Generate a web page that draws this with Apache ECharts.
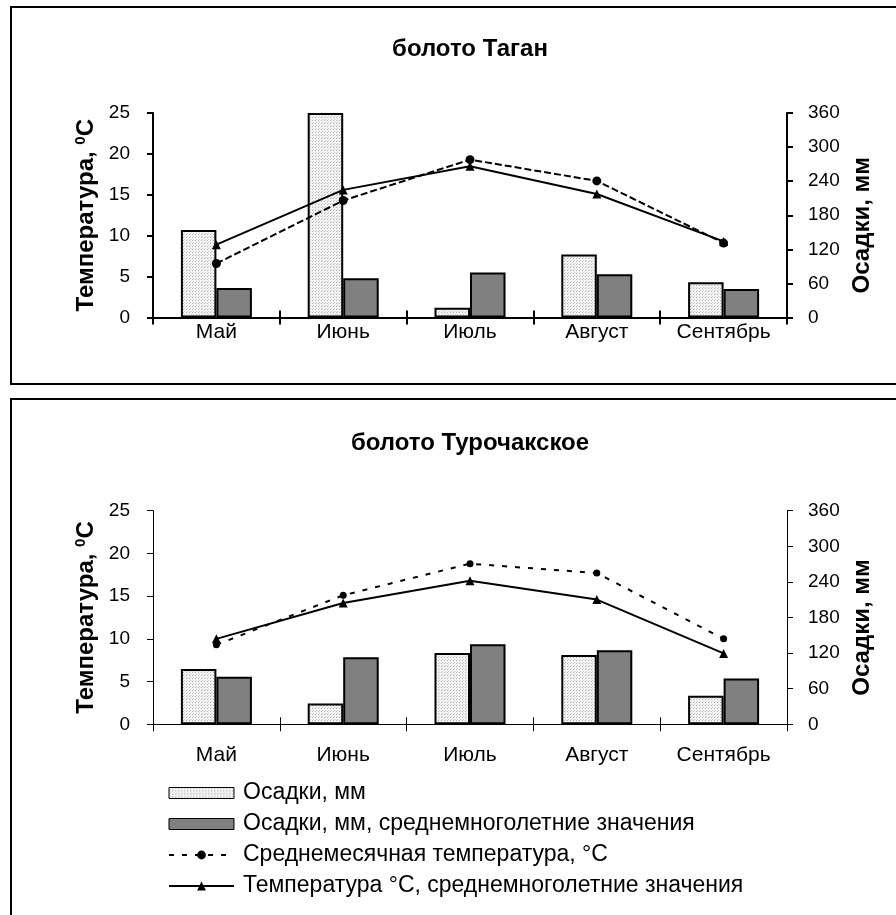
<!DOCTYPE html>
<html>
<head>
<meta charset="utf-8">
<script src="https://cdn.jsdelivr.net/npm/echarts@6/dist/echarts.min.js"></script>
<style>
html,body{margin:0;padding:0;background:#fff;}
#c{width:896px;height:915px;}
</style>
</head>
<body>
<div id="c"></div>
<script>
const months = ['Май', 'Июнь', 'Июль', 'Август', 'Сентябрь'];
const tempTicks = [0, 25, 5];     // min, max, interval
const precTicks = [0, 360, 60];   // min, max, interval

// болото Таган
const taganPrecip = [154, 360, 17, 111, 62];
const taganPrecipNorm = [52, 69, 79, 76, 50];
const taganTemp = [6.6, 14.3, 19.3, 16.7, 9.1];
const taganTempNorm = [8.9, 15.6, 18.5, 15.1, 9.3];

// болото Турочакское
const turPrecip = [93, 35, 120, 117, 48];
const turPrecipNorm = [80, 113, 135, 125, 77];
const turTemp = [9.3, 15.1, 18.8, 17.7, 10.0];
const turTempNorm = [10.0, 14.2, 16.8, 14.6, 8.3];

const names = ['Осадки, мм', 'Осадки, мм, среднемноголетние значения',
  'Среднемесячная температура, °C', 'Температура °C, среднемноголетние значения'];
const titles = ['болото Таган', 'болото Турочакское'];

const FONT = '"Liberation Sans", Arial, sans-serif';

// stipple pattern for light bars
const pc = document.createElement('canvas');
pc.width = 3; pc.height = 3;
const pctx = pc.getContext('2d');
pctx.fillStyle = '#f3f3f3'; pctx.fillRect(0, 0, 3, 3);
pctx.fillStyle = '#b4b4b4'; pctx.fillRect(0, 0, 1, 1);
pctx.fillStyle = '#d0d0d0'; pctx.fillRect(1, 2, 1, 1);
const lightFill = { image: pc, repeat: 'repeat' };

const chart = echarts.init(document.getElementById('c'), null, { renderer: 'canvas' });

const grids = [
  { left: 153, right: 109, top: 113, height: 204.5 },
  { left: 153, right: 109, top: 510.7, height: 213.6 }
];
const axW = [2, 1];
const labelMargin = [4, 20];

const xAxes = [], yAxes = [], series = [];
[0, 1].forEach(function (g) {
  xAxes.push({
    type: 'category', gridIndex: g, data: months, boundaryGap: true,
    axisLine: { lineStyle: { color: '#000', width: axW[g] } },
    axisTick: { show: true, length: 7, lineStyle: { color: '#000', width: axW[g] } },
    axisLabel: { color: '#000', fontSize: 21, fontFamily: FONT, margin: labelMargin[g], interval: 0, hideOverlap: false },
    splitLine: { show: false }
  });
  yAxes.push({
    type: 'value', gridIndex: g, position: 'left', min: tempTicks[0], max: tempTicks[1], interval: tempTicks[2],
    name: '{a|Температура, }{s|0}{a|C}', nameLocation: 'middle', nameRotate: 90, nameGap: 52,
    nameTextStyle: { rich: {
      a: { fontSize: 24, fontWeight: 'bold', fontFamily: FONT, color: '#000' },
      s: { fontSize: 15, fontWeight: 'bold', fontFamily: FONT, color: '#000', padding: [0, 0, 11, 0] } } },
    axisLine: { show: true, lineStyle: { color: '#000', width: axW[g] } },
    axisTick: { show: true, length: 6, lineStyle: { color: '#000', width: axW[g] } },
    axisLabel: { color: '#000', fontSize: 19, fontFamily: FONT, margin: 23 },
    splitLine: { show: false }
  });
  yAxes.push({
    type: 'value', gridIndex: g, position: 'right', min: precTicks[0], max: precTicks[1], interval: precTicks[2],
    name: 'Осадки, мм', nameLocation: 'middle', nameRotate: 90, nameGap: 63,
    nameTextStyle: { fontSize: 24, fontWeight: 'bold', fontFamily: FONT, color: '#000', padding: [0, 20, 0, 0] },
    axisLine: { show: true, lineStyle: { color: '#000', width: axW[g] } },
    axisTick: { show: true, length: 6, lineStyle: { color: '#000', width: axW[g] } },
    axisLabel: { color: '#000', fontSize: 19, fontFamily: FONT, margin: 21 },
    splitLine: { show: false }
  });
});
// extra category axes to give crossing ticks (inside part)
[0, 1].forEach(function (g) {
  xAxes.push({
    type: 'category', gridIndex: g, data: months, boundaryGap: true, position: 'bottom',
    axisLine: { show: false },
    axisTick: { show: true, inside: true, length: 7, lineStyle: { color: '#000', width: axW[g] } },
    axisLabel: { show: false }, splitLine: { show: false }
  });
});

const sets = [
  [taganPrecip, taganPrecipNorm, taganTemp, taganTempNorm],
  [turPrecip, turPrecipNorm, turTemp, turTempNorm]
];
// bottom grid series first so legend icons use their style
[1, 0].forEach(function (g) {
  const d = sets[g];
  const bw = 2;
  series.push({
    name: names[0], type: 'bar', xAxisIndex: g, yAxisIndex: g * 2 + 1, data: d[0],
    barGap: '0%', barCategoryGap: '44%',
    itemStyle: { color: lightFill, borderColor: '#000', borderWidth: bw },
    z: 2
  });
  series.push({
    name: names[1], type: 'bar', xAxisIndex: g, yAxisIndex: g * 2 + 1, data: d[1],
    barGap: '0%', barCategoryGap: '44%',
    itemStyle: { color: '#808080', borderColor: '#000', borderWidth: bw },
    z: 2
  });
  series.push({
    name: names[2], type: 'line', xAxisIndex: g, yAxisIndex: g * 2, data: d[2],
    symbol: 'circle', symbolSize: g === 0 ? 9 : 7,
    lineStyle: { color: '#000', width: 2, type: g === 0 ? [7, 3] : [5, 8] },
    itemStyle: { color: '#000' },
    z: 4
  });
  series.push({
    name: names[3], type: 'line', xAxisIndex: g, yAxisIndex: g * 2, data: d[3],
    symbol: 'triangle', symbolSize: 9,
    lineStyle: { color: '#000', width: 2, type: 'solid' },
    itemStyle: { color: '#000' },
    z: 5
  });
});

chart.setOption({
  animation: false,
  backgroundColor: '#fff',
  grid: grids,
  xAxis: xAxes,
  yAxis: yAxes,
  series: series,
  legend: {
    orient: 'vertical', left: 168, top: 781, padding: 0,
    itemWidth: 65, itemHeight: 11, itemGap: 7,
    data: [
      { name: names[0], icon: 'rect', itemStyle: { borderWidth: 1 } },
      { name: names[1], icon: 'rect', itemStyle: { borderWidth: 1 } },
      { name: names[2] },
      { name: names[3] }
    ],
    textStyle: { fontSize: 23, fontFamily: FONT, color: '#000', lineHeight: 24, padding: [0, 0, 0, 4] },
    selectedMode: false
  },
  graphic: [
    { type: 'rect', shape: { x: 11, y: 7, width: 900, height: 377 },
      style: { fill: 'none', stroke: '#000', lineWidth: 2 }, z: 0, silent: true },
    { type: 'rect', shape: { x: 11, y: 399, width: 900, height: 600 },
      style: { fill: 'none', stroke: '#000', lineWidth: 2 }, z: 0, silent: true },
    { type: 'text', x: 470, y: 49, style: { text: titles[0], align: 'center', verticalAlign: 'middle',
      font: 'bold 24px ' + FONT, fill: '#000' }, z: 10 },
    { type: 'text', x: 470, y: 443, style: { text: titles[1], align: 'center', verticalAlign: 'middle',
      font: 'bold 24px ' + FONT, fill: '#000' }, z: 10 }
  ]
});
</script>
</body>
</html>
